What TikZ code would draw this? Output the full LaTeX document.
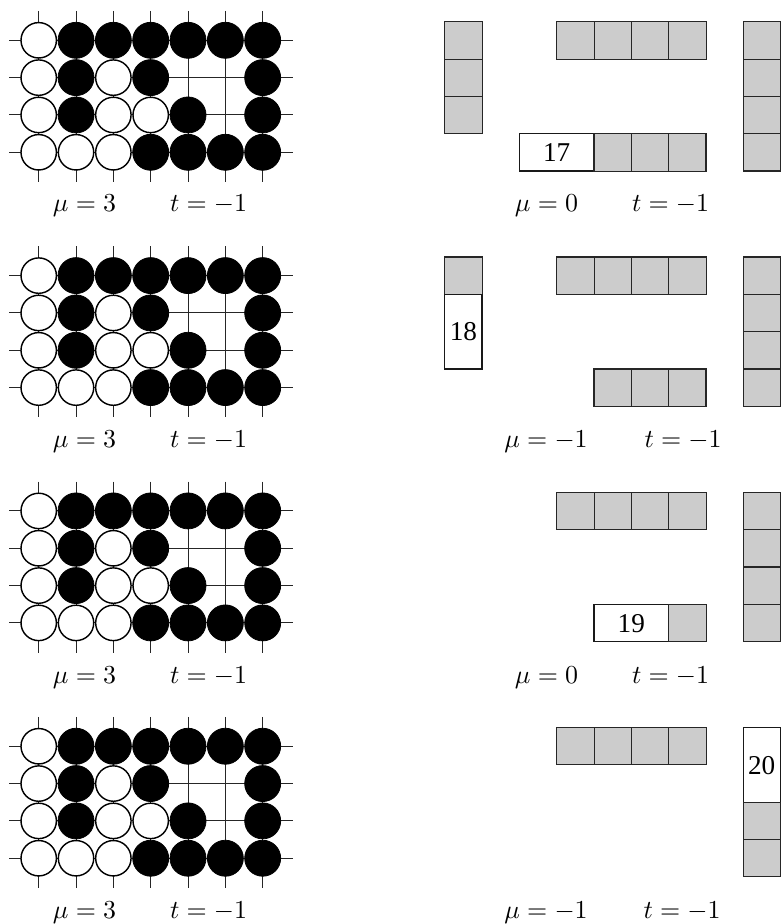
\documentclass[tikz,border=0pt]{standalone}
\usepackage{fontspec}
\newfontfamily\cellfont{Liberation Serif}
\tikzset{
  x=0.386pt,y=-0.386pt,
  gridline/.style={line width=0.38pt,black!85},
  wstone/.style={draw=black,fill=white,line width=0.55pt},
  bstone/.style={draw=black,fill=black,line width=0.3pt},
  cell/.style={draw=black!85,fill=black!20,line width=0.4pt},
  numcell/.style={draw=black!90,fill=white,line width=0.4pt},
  lab/.style={anchor=base,inner sep=0pt,outer sep=0pt},
  celltext/.style={inner sep=0pt,outer sep=0pt,font=\cellfont\fontsize{10.5}{13}\selectfont}
}
\newcommand{\goboard}{%
  \foreach \r in {0,1,2,3} \draw[gridline] (9,40.3+37.33*\r) -- (293,40.3+37.33*\r);
  \foreach \c in {0,...,6} \draw[gridline] (38.7+37.33*\c,11) -- (38.7+37.33*\c,182);
  \foreach \c/\r in {0/0,0/1,2/1,0/2,2/2,3/2,0/3,1/3,2/3}
    \draw[wstone] (38.7+37.33*\c,40.3+37.33*\r) circle (17.7);
  \foreach \c/\r in {1/0,2/0,3/0,4/0,5/0,6/0,1/1,3/1,6/1,1/2,4/2,6/2,3/3,4/3,5/3,6/3}
    \draw[bstone] (38.7+37.33*\c,40.3+37.33*\r) circle (18);
}
\newcommand{\hcells}[3]{% x-start, y-top, count
  \foreach \i in {1,...,#3}
    \draw[cell] (#1+37.33*\i-37.33,#2) rectangle ++(37.33,37.33);
}
\newcommand{\vcells}[3]{% x-left, y-top, count
  \foreach \i in {1,...,#3}
    \draw[cell] (#1,#2+37.33*\i-37.33) rectangle ++(37.33,37.33);
}
\begin{document}
\begin{tikzpicture}
\useasboundingbox (0,0) rectangle (781,924);
\clip (0,0) rectangle (781,924);
% panel 1
\begin{scope}
  \goboard
  \node[lab] (m1) at (84.5,212) {$\mu=3$};
  \node[lab] (t1) at (208.5,212) {$t=-1$};
  \vcells{444.7}{21.7}{3}
  \hcells{556.7}{21.7}{4}
  \draw[numcell] (519.4,133.7) rectangle (594,171);
  \node[celltext] (n17) at (556.7,152.6) {17};
  \hcells{594}{133.7}{3}
  \vcells{743.3}{21.7}{4}
  \node[lab] (rm1) at (546.5,212) {$\mu=0$};
  \node[lab] (rt1) at (670.5,212) {$t=-1$};
\end{scope}
% panel 2
\begin{scope}[yshift=-90.83pt]
  \goboard
  \node[lab] (m2) at (84.5,212.6) {$\mu=3$};
  \node[lab] (t2) at (208.5,212.6) {$t=-1$};
  \vcells{444.7}{21.7}{1}
  \draw[numcell] (444.7,59) rectangle (482,133.7);
  \node[celltext] (n18) at (463.4,96.6) {18};
  \hcells{556.7}{21.7}{4}
  \hcells{594}{133.7}{3}
  \vcells{743.3}{21.7}{4}
  \node[lab] (rm2) at (546,212.6) {$\mu=-1$};
  \node[lab] (rt2) at (683,212.6) {$t=-1$};
\end{scope}
% panel 3
\begin{scope}[yshift=-181.66pt]
  \goboard
  \node[lab] (m3) at (84.5,213) {$\mu=3$};
  \node[lab] (t3) at (208.5,213) {$t=-1$};
  \hcells{556.7}{21.7}{4}
  \draw[numcell] (594,133.7) rectangle (668.7,171);
  \node[celltext] (n19) at (631.3,152.6) {19};
  \hcells{668.7}{133.7}{1}
  \vcells{743.3}{21.7}{4}
  \node[lab] (rm3) at (546.5,213) {$\mu=0$};
  \node[lab] (rt3) at (670.5,213) {$t=-1$};
\end{scope}
% panel 4
\begin{scope}[yshift=-272.49pt]
  \goboard
  \node[lab] (m4) at (84.5,212.3) {$\mu=3$};
  \node[lab] (t4) at (208.5,212.3) {$t=-1$};
  \hcells{556.7}{21.7}{4}
  \draw[numcell] (743.3,21.7) rectangle (780.3,96.3);
  \node[celltext] (n20) at (761.7,59.3) {20};
  \vcells{743.3}{96.3}{2}
  \node[lab] (rm4) at (546,212.3) {$\mu=-1$};
  \node[lab] (rt4) at (682,212.3) {$t=-1$};
\end{scope}
\end{tikzpicture}
\end{document}
